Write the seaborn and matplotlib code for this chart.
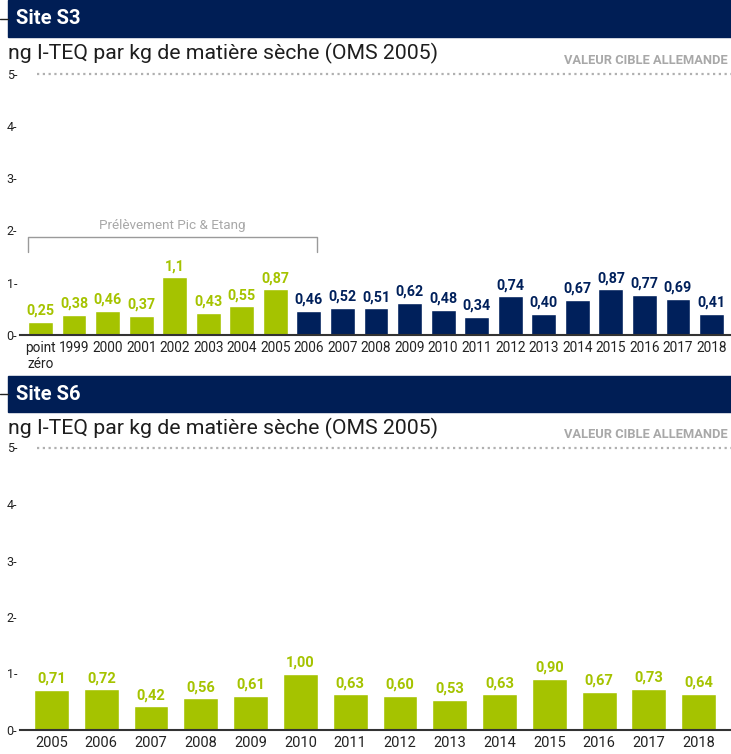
import matplotlib
matplotlib.use("Agg")
import matplotlib.pyplot as plt
import seaborn as sns
import pandas as pd
from matplotlib.patches import Rectangle
from matplotlib.lines import Line2D

# ---- data ----
s3_years = ["point\nzéro", "1999", "2000", "2001", "2002", "2003", "2004", "2005",
            "2006", "2007", "2008", "2009", "2010", "2011", "2012", "2013",
            "2014", "2015", "2016", "2017", "2018"]
s3_values = ["0,25", "0,38", "0,46", "0,37", "1,1", "0,43", "0,55", "0,87",
             "0,46", "0,52", "0,51", "0,62", "0,48", "0,34", "0,74", "0,40",
             "0,67", "0,87", "0,77", "0,69", "0,41"]
s3_method = ["Pic & Etang"] * 8 + ["Standard"] * 13

s6_years = ["2005", "2006", "2007", "2008", "2009", "2010", "2011",
            "2012", "2013", "2014", "2015", "2016", "2017", "2018"]
s6_values = ["0,71", "0,72", "0,42", "0,56", "0,61", "1,00", "0,63",
             "0,60", "0,53", "0,63", "0,90", "0,67", "0,73", "0,64"]
s6_method = ["Pic & Etang"] * 14

y_ticks = [0, 1, 2, 3, 4, 5]
target_value = 5
unit_label = "ng I-TEQ par kg de matière sèche (OMS 2005)"
target_label = "VALEUR CIBLE ALLEMANDE"
bracket_label = "Prélèvement Pic & Etang"

GREEN = "#a5c300"
NAVY = "#00205b"
HEADER = "#001e55"
GREY = "#a8a8a8"
palette = {"Pic & Etang": GREEN, "Standard": NAVY}

sns.set_theme(style="white")
plt.rcParams["font.family"] = ["Roboto", "DejaVu Sans"]

W, H = 731, 754
fig = plt.figure(figsize=(W / 100, H / 100), dpi=100)


def px_rect(left, top, right, bottom):
    return [left / W, 1 - bottom / H, (right - left) / W, (bottom - top) / H]


def header(top, bottom, title):
    fig.patches.append(Rectangle((8 / W, 1 - bottom / H), (W - 8) / W, (bottom - top) / H,
                                 transform=fig.transFigure, color=HEADER, zorder=0))
    mid = (top + bottom) / 2
    fig.lines.append(Line2D([0, 8 / W], [1 - mid / H, 1 - mid / H],
                            transform=fig.transFigure, color="#222222", lw=1))
    fig.text(16 / W, 1 - mid / H, title, color="white", fontsize=14.5,
             fontweight="bold", va="center", ha="left")


def panel(ax, years, values_txt, method, width, label_size, tick_size, xlim):
    values = [float(t.replace(",", ".")) for t in values_txt]
    df = pd.DataFrame({"year": years, "value": values, "method": method})
    sns.barplot(data=df, x="year", y="value", hue="method", palette=palette,
                order=years, dodge=False, width=width, legend=False,
                saturation=1, ax=ax)
    for i, (v, t, m) in enumerate(zip(values, values_txt, method)):
        ax.annotate(t, (i, v), xytext=(0, 3), textcoords="offset points",
                    ha="center", va="bottom", fontsize=label_size,
                    fontweight="bold", color=palette[m])
    ax.set_xlim(*xlim)
    ax.set_ylim(0, 5.2)
    ax.set_xlabel("")
    ax.set_ylabel("")
    ax.set_yticks(y_ticks)
    ax.set_yticklabels([f"{v}-" for v in y_ticks], fontsize=9, color="#222222")
    ax.tick_params(axis="y", length=0, pad=2)
    ax.tick_params(axis="x", length=0, pad=4, labelsize=tick_size, labelcolor="#222222")
    for s in ("top", "right", "left"):
        ax.spines[s].set_visible(False)
    ax.spines["bottom"].set_color("#333333")
    ax.spines["bottom"].set_linewidth(1.5)
    # target value line
    x0 = xlim[0] + (xlim[1] - xlim[0]) * 17 / 711
    ax.plot([x0, xlim[1]], [target_value, target_value], color="#b0b0b0",
            lw=1.6, ls=(0, (1, 1.6)), clip_on=False)
    ax.text(xlim[1] - (xlim[1] - xlim[0]) * 3 / 711, target_value + 0.12, target_label,
            ha="right", va="bottom", fontsize=9.3, fontweight="bold", color=GREY)


# ---- Site S3 ----
header(0, 37, "Site S3")
fig.text(8 / W, 1 - 53 / H, unit_label, fontsize=15.3,
         color="#1e1e1e", va="center", ha="left")
ax1 = fig.add_axes(px_rect(20, 335 - 5.2 * 52.3, W, 335))
panel(ax1, s3_years, s3_values, s3_method, 0.74, 10.3, 9.8, (-0.61, 20.58))
# sampling bracket
bx0, bx1, by0, by1 = -0.37, 8.24, 1.59, 1.87
ax1.plot([bx0, bx0, bx1, bx1], [by0, by1, by1, by0], color="#9a9a9a", lw=1)
ax1.text((bx0 + bx1) / 2, by1 + 0.1, bracket_label, ha="center", va="bottom",
         fontsize=9.7, color=GREY)

# ---- Site S6 ----
header(376, 412, "Site S6")
fig.text(8 / W, 1 - 428 / H, unit_label, fontsize=15.3,
         color="#1e1e1e", va="center", ha="left")
ax2 = fig.add_axes(px_rect(20, 730 - 5.2 * 56.5, W, 730))
panel(ax2, s6_years, s6_values, s6_method, 0.70, 10.5, 10.5, (-0.633, 13.65))

fig.savefig("out.png", dpi=100)
